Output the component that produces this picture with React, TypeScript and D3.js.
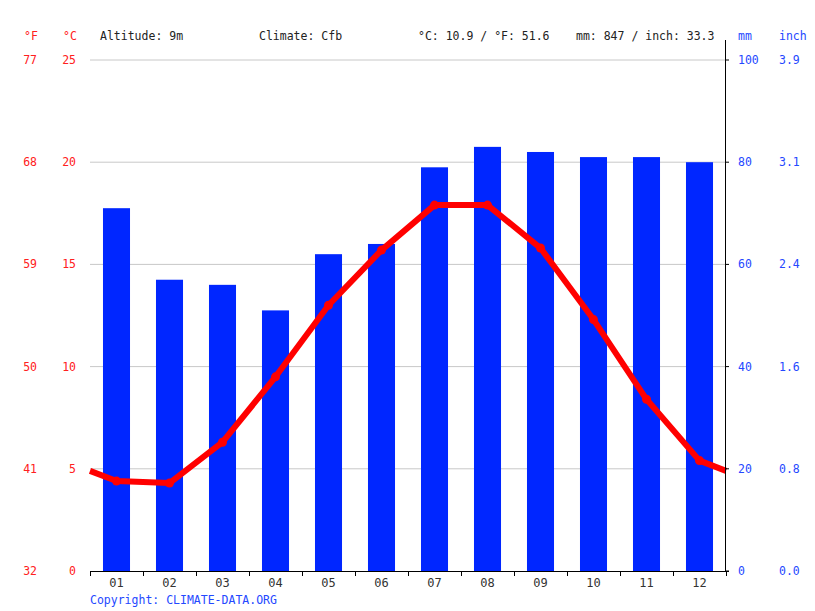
import { useEffect, useRef } from 'react'
import * as d3 from 'd3'

const months = ['01', '02', '03', '04', '05', '06', '07', '08', '09', '10', '11', '12']
const precipMm = [71, 57, 56, 51, 62, 64, 79, 83, 82, 81, 81, 80]
const tempC = [4.4, 4.3, 6.3, 9.5, 13.0, 15.7, 17.9, 17.9, 15.8, 12.3, 8.4, 5.4]
const celsiusTicks = [0, 5, 10, 15, 20, 25]
const fahrenheitLabels = ['32', '41', '50', '59', '68', '77']
const mmTicks = [0, 20, 40, 60, 80, 100]
const inchLabels = ['0.0', '0.8', '1.6', '2.4', '3.1', '3.9']

const FONT = '"DejaVu Sans Mono", monospace'
const RED = '#ff2020'
const BLUE = '#2448ff'
const BAR = '#0026ff'

export default function App() {
  const svgRef = useRef<SVGSVGElement>(null)

  useEffect(() => {
    if (!svgRef.current) return
    const width = 815
    const height = 611
    const margin = { top: 60, right: 89, bottom: 40, left: 90 }
    const innerW = width - margin.left - margin.right
    const innerH = height - margin.top - margin.bottom

    d3.select(svgRef.current).selectAll('*').remove()
    const svg = d3.select(svgRef.current)
      .attr('width', width)
      .attr('height', height)
      .style('font-family', FONT)
      .style('font-size', '11.5px')

    const x = d3.scaleBand().domain(months).range([margin.left, margin.left + innerW]).paddingInner(0).paddingOuter(0)
    const yT = d3.scaleLinear().domain([0, 25]).range([margin.top + innerH, margin.top])
    const yP = d3.scaleLinear().domain([0, 100]).range([margin.top + innerH, margin.top])
    const x0 = margin.left
    const x1 = margin.left + innerW
    const y0 = margin.top + innerH

    // gridlines
    svg.append('g')
      .selectAll('line')
      .data(celsiusTicks.filter(t => t > 0))
      .join('line')
      .attr('x1', x0)
      .attr('x2', x1)
      .attr('y1', d => yT(d))
      .attr('y2', d => yT(d))
      .attr('stroke', '#c8c8c8')
      .attr('stroke-width', 1)

    // bars
    const bw = x.bandwidth() * 0.51
    svg.append('g')
      .selectAll('rect')
      .data(precipMm)
      .join('rect')
      .attr('x', (_, i) => (x(months[i]) || 0) + (x.bandwidth() - bw) / 2)
      .attr('y', d => yP(d))
      .attr('width', bw)
      .attr('height', d => y0 - yP(d))
      .attr('fill', BAR)

    // temperature line, wrapping to plot edges
    const edge = (tempC[0] + tempC[11]) / 2
    const pts: [number, number][] = [
      [x0, yT(edge)],
      ...tempC.map((t, i) => [(x(months[i]) || 0) + x.bandwidth() / 2, yT(t)] as [number, number]),
      [x1, yT(edge)],
    ]
    svg.append('path')
      .attr('d', d3.line()(pts))
      .attr('fill', 'none')
      .attr('stroke', '#ff0000')
      .attr('stroke-width', 6)
      .attr('stroke-linejoin', 'round')

    svg.append('g')
      .selectAll('circle')
      .data(tempC)
      .join('circle')
      .attr('cx', (_, i) => (x(months[i]) || 0) + x.bandwidth() / 2)
      .attr('cy', d => yT(d))
      .attr('r', 4.5)
      .attr('fill', '#ff0000')

    // bottom axis
    svg.append('line')
      .attr('x1', x0).attr('x2', x1 + 3)
      .attr('y1', y0 + 0.5).attr('y2', y0 + 0.5)
      .attr('stroke', '#000')
    svg.append('g')
      .selectAll('line')
      .data(d3.range(13))
      .join('line')
      .attr('x1', i => x0 + i * x.step() + 0.5)
      .attr('x2', i => x0 + i * x.step() + 0.5)
      .attr('y1', y0)
      .attr('y2', y0 + 5)
      .attr('stroke', '#000')
    svg.append('g')
      .selectAll('text')
      .data(months)
      .join('text')
      .attr('x', d => (x(d) || 0) + x.bandwidth() / 2)
      .attr('y', y0 + 16)
      .attr('text-anchor', 'middle')
      .attr('fill', '#333')
      .attr('font-size', '12px')
      .text(d => d)

    // right axis
    svg.append('line')
      .attr('x1', x1 - 0.5).attr('x2', x1 - 0.5)
      .attr('y1', 40).attr('y2', y0)
      .attr('stroke', '#000')
    svg.append('g')
      .selectAll('line')
      .data(mmTicks)
      .join('line')
      .attr('x1', x1 - 0.5)
      .attr('x2', x1 + 3)
      .attr('y1', d => yP(d))
      .attr('y2', d => yP(d))
      .attr('stroke', '#000')

    // left labels
    svg.append('g')
      .selectAll('text')
      .data(celsiusTicks)
      .join('text')
      .attr('x', 76)
      .attr('y', d => yT(d))
      .attr('dy', '0.35em')
      .attr('text-anchor', 'end')
      .attr('fill', RED)
      .text(d => d)
    svg.append('g')
      .selectAll('text')
      .data(fahrenheitLabels)
      .join('text')
      .attr('x', 37)
      .attr('y', (_, i) => yT(celsiusTicks[i]))
      .attr('dy', '0.35em')
      .attr('text-anchor', 'end')
      .attr('fill', RED)
      .text(d => d)

    // right labels
    svg.append('g')
      .selectAll('text')
      .data(mmTicks)
      .join('text')
      .attr('x', 738)
      .attr('y', d => yP(d))
      .attr('dy', '0.35em')
      .attr('fill', BLUE)
      .text(d => d)
    svg.append('g')
      .selectAll('text')
      .data(inchLabels)
      .join('text')
      .attr('x', 779)
      .attr('y', (_, i) => yP(mmTicks[i]))
      .attr('dy', '0.35em')
      .attr('fill', BLUE)
      .text(d => d)

    // header
    const header: [number, string, string][] = [
      [24, '°F', RED],
      [63, '°C', RED],
      [100, 'Altitude: 9m', '#222'],
      [259, 'Climate: Cfb', '#222'],
      [418, '°C: 10.9 / °F: 51.6', '#222'],
      [576, 'mm: 847 / inch: 33.3', '#222'],
      [738, 'mm', BLUE],
      [779, 'inch', BLUE],
    ]
    svg.append('g')
      .selectAll('text')
      .data(header)
      .join('text')
      .attr('x', d => d[0])
      .attr('y', 40)
      .attr('fill', d => d[2])
      .text(d => d[1])

    svg.append('text')
      .attr('x', 90)
      .attr('y', 604)
      .attr('fill', BLUE)
      .text('Copyright: CLIMATE-DATA.ORG')
  }, [])

  return <svg ref={svgRef} style={{ position: 'absolute', left: 0, top: 0 }}></svg>
}
